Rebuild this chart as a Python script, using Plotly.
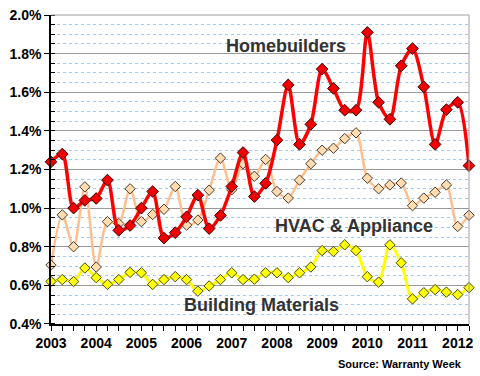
import plotly.graph_objects as go

quarters = [2003 + 0.25 * i for i in range(38)]

homebuilders = [1.24, 1.28, 1.00, 1.04, 1.05, 1.145, 0.885, 0.91, 1.00, 1.086,
                0.845, 0.873, 0.955, 1.067, 0.894, 0.962, 1.112, 1.288, 1.06, 1.128,
                1.352, 1.638, 1.33, 1.434, 1.72, 1.62, 1.507, 1.507, 1.91, 1.548,
                1.46, 1.737, 1.826, 1.628, 1.33, 1.51, 1.548, 1.22]

hvac = [0.705, 0.965, 0.80, 1.11, 0.695, 0.93, 0.92, 1.10, 0.93, 0.967,
        0.994, 1.112, 0.912, 0.938, 1.093, 1.259, 1.095, 1.23, 1.165, 1.252,
        1.086, 1.052, 1.145, 1.23, 1.30, 1.31, 1.36, 1.39, 1.155, 1.10,
        1.12, 1.13, 1.013, 1.052, 1.082, 1.12, 0.905, 0.963]

building = [0.62, 0.63, 0.62, 0.69, 0.64, 0.605, 0.63, 0.667, 0.665, 0.605,
            0.63, 0.645, 0.63, 0.57, 0.597, 0.63, 0.665, 0.63, 0.632, 0.665,
            0.665, 0.64, 0.665, 0.695, 0.78, 0.775, 0.81, 0.78, 0.645, 0.617,
            0.81, 0.717, 0.53, 0.562, 0.578, 0.565, 0.552, 0.588]

year_ticks = list(range(2003, 2013))
year_labels = [str(y) for y in year_ticks]
y_ticks = [0.4, 0.6, 0.8, 1.0, 1.2, 1.4, 1.6, 1.8, 2.0]
y_labels = ["0.4%", "0.6%", "0.8%", "1.0%", "1.2%", "1.4%", "1.6%", "1.8%", "2.0%"]

FONT = "Liberation Sans, Arial, sans-serif"

fig = go.Figure()

fig.add_trace(go.Scatter(
    x=quarters, y=hvac, mode="lines+markers", name="HVAC & Appliance",
    line=dict(color="#FFBE8C", width=2.5, shape="spline", smoothing=0.8),
    marker=dict(symbol="diamond", size=8, color="#FFDDB0",
                line=dict(color="#4A3A2A", width=1)),
    cliponaxis=False))

fig.add_trace(go.Scatter(
    x=quarters, y=building, mode="lines+markers", name="Building Materials",
    line=dict(color="#FFFF00", width=3, shape="spline", smoothing=0.8),
    marker=dict(symbol="diamond", size=8, color="#FFFF00",
                line=dict(color="#4A4A00", width=1)),
    cliponaxis=False))

fig.add_trace(go.Scatter(
    x=quarters, y=homebuilders, mode="lines+markers", name="Homebuilders",
    line=dict(color="#FF0000", width=3.5, shape="spline", smoothing=0.8),
    marker=dict(symbol="diamond", size=9, color="#F00000",
                line=dict(color="#3A0000", width=1)),
    cliponaxis=False))

ann_font = dict(family=FONT, size=18, color="#333333", weight="bold")
fig.add_annotation(x=2008.19, y=1.84, text="Homebuilders", showarrow=False,
                   font=ann_font, xanchor="center", yanchor="middle")
fig.add_annotation(x=2009.70, y=0.909, text="HVAC &amp; Appliance", showarrow=False,
                   font=ann_font, xanchor="center", yanchor="middle")
fig.add_annotation(x=2007.65, y=0.50, text="Building Materials", showarrow=False,
                   font=ann_font, xanchor="center", yanchor="middle")
fig.add_annotation(xref="paper", yref="paper", x=0.988, y=-0.129,
                   text="Source: Warranty Week", showarrow=False,
                   font=dict(family=FONT, size=11, color="#000000", weight="bold"),
                   xanchor="right", yanchor="middle")

fig.update_layout(
    width=480, height=376,
    margin=dict(l=51, r=7, t=7, b=52),
    paper_bgcolor="white", plot_bgcolor="white",
    showlegend=False,
    font=dict(family=FONT, color="black"),
    xaxis=dict(
        range=[2003, 2012.25], tickvals=year_ticks, ticktext=year_labels,
        showgrid=False, zeroline=False,
        showline=True, linecolor="black", linewidth=1.5,
        ticks="outside", ticklen=5, tickcolor="black",
        tickfont=dict(family=FONT, size=14, color="black", weight="bold"),
        ticklabeloverflow="allow",
        minor=dict(dtick=0.25, tick0=2003, ticks="outside", ticklen=5,
                   tickcolor="black", showgrid=False),
    ),
    yaxis=dict(
        range=[0.3999, 2.0001], tickvals=y_ticks, ticktext=y_labels,
        showgrid=True, gridcolor="#999999", gridwidth=1,
        zeroline=False,
        showline=True, linecolor="black", linewidth=1.5,
        ticks="outside", ticklen=5, tickcolor="black",
        tickfont=dict(family=FONT, size=14, color="black", weight="bold"),
        ticklabeloverflow="allow",
        minor=dict(dtick=0.05, tick0=0.4, ticks="inside", ticklen=4,
                   tickcolor="black", showgrid=True, gridcolor="#99CCFF",
                   gridwidth=1, griddash="dot"),
    ),
)

fig.add_shape(type="line", xref="paper", yref="paper", x0=1, x1=1, y0=0, y1=1,
              line=dict(color="#A0A0A0", width=1))
fig.add_shape(type="line", xref="paper", yref="paper", x0=0, x1=1, y0=1, y1=1,
              line=dict(color="#A0A0A0", width=1))

fig.write_html("out.html",
               config={"displayModeBar": False},
               post_script="document.body.style.margin='0';document.body.style.padding='0';")
